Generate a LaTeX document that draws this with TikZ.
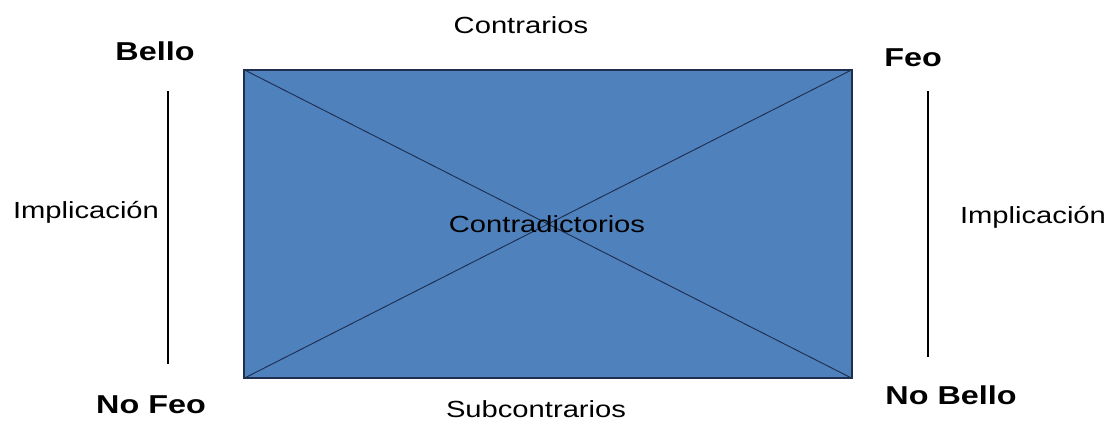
\documentclass[tikz,border=0pt]{standalone}
\usepackage{fontspec}
\setmainfont{Liberation Sans}
\usepackage{graphicx}
\definecolor{boxblue}{HTML}{4F81BD}
\definecolor{boxedge}{HTML}{1F2F4F}
\newcommand{\widetxt}[1]{\scalebox{1.25}[1]{#1}}
\tikzset{
  lbl/.style={anchor=base, inner sep=0pt, font=\fontsize{17.5}{21}\selectfont},
  term/.style={anchor=base, inner sep=0pt, font=\fontsize{19.4}{23}\bfseries},
}
\begin{document}
\begin{tikzpicture}[x=0.75pt, y=-0.75pt]

        \useasboundingbox (0,0) rectangle (1110,421);

        % Draw the square of opposition
        \node[draw=boxedge, line width=0.9pt, fill=boxblue, minimum width=456pt, minimum height=231pt, inner sep=0pt] (box) at (548,224) {};
        \draw[boxedge, line width=0.7pt] (box.north west) -- (box.south east);
        \draw[boxedge, line width=0.7pt] (box.south west) -- (box.north east);
        \node[lbl] (contradict) at (547,232) {\widetxt{Contradictorios}};

        % Corner terms
        \node[term] (bello) at (155,60) {\widetxt{Bello}};
        \node[term] (feo) at (913,66) {\widetxt{Feo}};
        \node[term] (nofeo) at (151,413) {\widetxt{No Feo}};
        \node[term] (nobello) at (951,404) {\widetxt{No Bello}};

        % Relations
        \node[lbl] (contrarios) at (521,33) {\widetxt{Contrarios}};
        \node[lbl] (subcontr) at (536,417) {\widetxt{Subcontrarios}};
        \node[lbl] (implleft) at (86,218) {\widetxt{Implicación}};
        \node[lbl] (implright) at (1033,223) {\widetxt{Implicación}};

        % Implication lines
        \coordinate (lt) at (168,91);
        \coordinate (lb) at (168,364);
        \coordinate (rt) at (928,91);
        \coordinate (rb) at (928,357);
        \draw[line width=0.8pt] (lt) -- (lb);
        \draw[line width=0.8pt] (rt) -- (rb);

\end{tikzpicture}
\end{document}
